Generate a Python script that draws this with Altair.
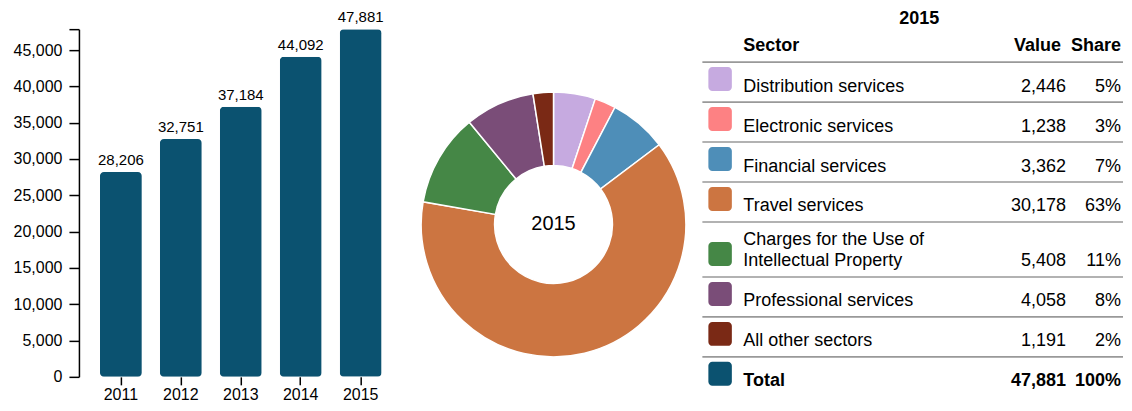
import altair as alt
import pandas as pd

FONT = "Liberation Sans"

# ---- data ----
years = ["2011", "2012", "2013", "2014", "2015"]
totals = [28206, 32751, 37184, 44092, 47881]

sectors = [
    "Distribution services",
    "Electronic services",
    "Financial services",
    "Travel services",
    "Charges for the Use of Intellectual Property",
    "Professional services",
    "All other sectors",
]
sector_labels = [
    "Distribution services",
    "Electronic services",
    "Financial services",
    "Travel services",
    "Charges for the Use of\nIntellectual Property",
    "Professional services",
    "All other sectors",
]
sector_values = [2446, 1238, 3362, 30178, 5408, 4058, 1191]

# ---- styles ----
sector_colors = ["#c6aae0", "#fd8183", "#4e8eb8", "#cc7541", "#458746", "#7a4d78", "#7a2915"]
bar_color = "#0b5270"
focus_year = years[-1]

# ---------------- bar chart ----------------
bar_df = pd.DataFrame({"year": years, "value": totals})
ymax = max(totals)
tick_vals = list(range(0, 45001, 5000)) + [ymax]

xb = alt.X(
    "year:N",
    scale=alt.Scale(paddingInner=0.3, paddingOuter=0.35),
    axis=alt.Axis(
        title=None, domain=False, labelAngle=0, tickSize=8, tickWidth=1.5,
        tickColor="#000", labelPadding=2, labelFontSize=16, labelColor="#000",
        labelFont=FONT,
    ),
)
yb = alt.Y(
    "value:Q",
    scale=alt.Scale(domain=[0, ymax], nice=False, range=[369, 21]),
    axis=alt.Axis(
        title=None, grid=False, values=tick_vals,
        labelExpr=f"datum.value == {ymax} ? '' : format(datum.value, ',')",
        tickSize=10, tickWidth=1.5, tickColor="#000", domainColor="#000",
        domainWidth=1.5, labelPadding=7, labelFontSize=16, labelColor="#000",
        labelFont=FONT,
    ),
)

bars = alt.Chart(bar_df).mark_bar(cornerRadius=4, color=bar_color).encode(x=xb, y=yb)
bar_labels = alt.Chart(bar_df).mark_text(
    dy=-7, baseline="alphabetic", fontSize=15, font=FONT, color="#000"
).encode(x=xb, y=yb, text=alt.Text("value:Q", format=","))
bar_chart = alt.layer(bars, bar_labels).properties(width=324, height=369)

# ---------------- donut ----------------
pie_df = pd.DataFrame({"sector": sectors, "value": sector_values, "order": list(range(len(sectors)))})
DX, DY = 151, 216.5
donut = alt.Chart(pie_df).mark_arc(
    innerRadius=59, outerRadius=132.5, stroke="white", strokeWidth=1.5
).encode(
    theta=alt.Theta("value:Q", stack=True),
    order=alt.Order("order:Q"),
    color=alt.Color("sector:N", scale=alt.Scale(domain=sectors, range=sector_colors), legend=None),
    x=alt.value(DX),
    y=alt.value(DY),
)
donut_text = alt.Chart(pd.DataFrame({"label": [focus_year]})).mark_text(
    fontSize=20, font=FONT, color="#000", baseline="middle", align="center"
).encode(text="label:N", x=alt.value(DX), y=alt.value(DY))
donut_chart = alt.layer(donut, donut_text).properties(width=299, height=369)

# ---------------- table ----------------
tbl = pd.DataFrame({
    "label": sector_labels + ["Total"],
    "value": sector_values + [sum(sector_values)],
    "order": list(range(len(sector_labels) + 1)),
    "is_total": [0] * len(sector_labels) + [1],
})
TW = 421
X_LABEL, X_VALUE, X_SHARE, X_VHEAD = 41, 364, 419, 359
ysc = alt.Scale(domain=[0, 395], range=[0, 395])

base = alt.Chart(tbl).transform_calculate(
    lines="length(split(datum.label, '\\n'))"
).transform_calculate(
    h="25 + 15 * datum.lines"
).transform_window(
    cum="sum(h)", sort=[alt.SortField("order")], frame=[None, 0]
).transform_joinaggregate(
    grand="max(value)"
).transform_calculate(
    T="54 + datum.cum - datum.h",
    sw_top="54 + datum.cum - 35",
    sw_bot="54 + datum.cum - 11",
    ty="54 + datum.cum - 6.5",
    tyl="54 + datum.cum - 6.5 - 21 * (datum.lines - 1)",
    share="datum.value / datum.grand",
)

rules = base.mark_rule(color="#999999", strokeWidth=1.6).encode(
    y=alt.Y("T:Q", scale=ysc, axis=None), x=alt.value(0), x2=alt.value(TW)
)
swatches = base.mark_rect(cornerRadius=4).encode(
    y=alt.Y("sw_top:Q", scale=ysc, axis=None), y2="sw_bot:Q",
    x=alt.value(6), x2=alt.value(29.5),
    color=alt.Color("label:N", scale=alt.Scale(domain=sector_labels + ["Total"],
                                               range=sector_colors + [bar_color]), legend=None),
)

def row_texts(is_total, weight):
    b = base.transform_filter(f"datum.is_total == {is_total}")
    kw = dict(fontSize=18, font=FONT, color="#000", baseline="bottom", fontWeight=weight)
    lab = b.mark_text(align="left", lineBreak="\n", lineHeight=21, **kw).encode(
        y=alt.Y("tyl:Q", scale=ysc, axis=None), x=alt.value(X_LABEL), text="label:N")
    val = b.mark_text(align="right", **kw).encode(
        y=alt.Y("ty:Q", scale=ysc, axis=None), x=alt.value(X_VALUE),
        text=alt.Text("value:Q", format=","))
    shr = b.mark_text(align="right", **kw).encode(
        y=alt.Y("ty:Q", scale=ysc, axis=None), x=alt.value(X_SHARE),
        text=alt.Text("share:Q", format=".0%"))
    return [lab, val, shr]

hdr_kw = dict(fontSize=18, font=FONT, color="#000", fontWeight="bold", baseline="alphabetic")
title_t = alt.Chart(pd.DataFrame({"t": [focus_year]})).mark_text(align="center", **hdr_kw).encode(
    text="t:N", x=alt.value(217), y=alt.value(16))
h_sector = alt.Chart(pd.DataFrame({"t": ["Sector"]})).mark_text(align="left", **hdr_kw).encode(
    text="t:N", x=alt.value(X_LABEL), y=alt.value(42.5))
h_value = alt.Chart(pd.DataFrame({"t": ["Value"]})).mark_text(align="right", **hdr_kw).encode(
    text="t:N", x=alt.value(X_VHEAD), y=alt.value(42.5))
h_share = alt.Chart(pd.DataFrame({"t": ["Share"]})).mark_text(align="right", **hdr_kw).encode(
    text="t:N", x=alt.value(X_SHARE), y=alt.value(42.5))

table_chart = alt.layer(
    rules, swatches, *row_texts(0, "normal"), *row_texts(1, "bold"),
    title_t, h_sector, h_value, h_share,
).properties(width=TW, height=390)

chart = alt.hconcat(bar_chart, donut_chart, table_chart, spacing=0).properties(
    padding={"left": 5, "top": 0, "right": 0, "bottom": 0}
).resolve_scale(color="independent").configure_view(stroke=None)

chart.save("out.html", embed_options={"renderer": "svg", "actions": False})
